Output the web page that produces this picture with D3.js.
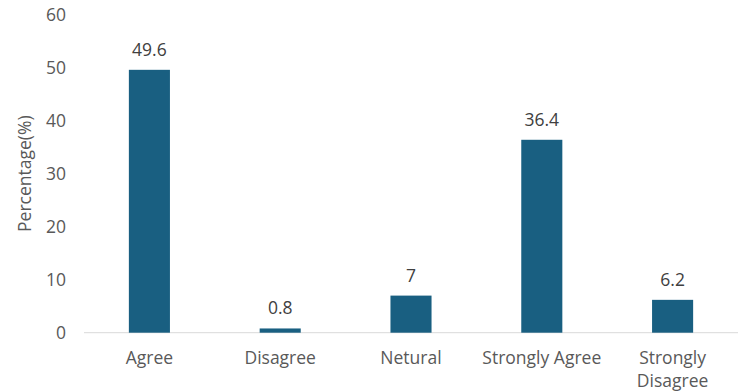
<!DOCTYPE html>
<html><head><meta charset="utf-8">
<script src="https://cdn.jsdelivr.net/npm/d3@7"></script>
<style>body{margin:0;background:#fff;} svg{display:block;}</style>
</head><body>
<script>
const categories = ["Agree","Disagree","Netural","Strongly Agree","Strongly Disagree"];
const values = [49.6, 0.8, 7, 36.4, 6.2];
const valueLabels = ["49.6","0.8","7","36.4","6.2"];
const yTicks = [0,10,20,30,40,50,60];
const yTitle = "Percentage(%)";

const W = 750, H = 392;
const m = {left:84, right:12, top:14.7, bottom:59.3};
const font = "'Open Sans', sans-serif";
const fs = 17.5;
const svg = d3.select("body").append("svg").attr("width",W).attr("height",H)
  .style("font-family", font);

const x = d3.scaleBand().domain(categories).range([m.left, W-m.right]).paddingInner(0.686).paddingOuter(0.343);
const y = d3.scaleLinear().domain([0,60]).range([H-m.bottom, m.top]);

const ya = svg.append("g").attr("transform",`translate(${m.left},0)`)
  .call(d3.axisLeft(y).tickValues(yTicks).tickSize(0).tickPadding(18));
ya.select(".domain").remove();
ya.selectAll("text").attr("font-size",fs).attr("fill","#595959").style("font-family",font);

svg.append("line").attr("x1",m.left).attr("x2",W-m.right)
  .attr("y1",y(0)).attr("y2",y(0)).attr("stroke","#d9d9d9").attr("stroke-width",1);

svg.append("g").selectAll("rect").data(categories).join("rect")
  .attr("x",d=>x(d)).attr("width",x.bandwidth())
  .attr("y",(d,i)=>y(values[i])).attr("height",(d,i)=>y(0)-y(values[i]))
  .attr("fill","#195f81");

svg.append("g").selectAll("text").data(categories).join("text")
  .attr("x",d=>x(d)+x.bandwidth()/2).attr("y",(d,i)=>y(values[i])-14)
  .attr("text-anchor","middle").attr("font-size",fs).attr("fill","#404040")
  .text((d,i)=>valueLabels[i]);

const xa = svg.append("g").selectAll("text").data(categories).join("text")
  .attr("x",d=>x(d)+x.bandwidth()/2).attr("y",y(0)+31)
  .attr("text-anchor","middle").attr("font-size",fs).attr("fill","#595959");
xa.each(function(d){
  const t = d3.select(this);
  const words = d.split(" ");
  if (d === "Strongly Disagree") {
    words.forEach((w,i)=>t.append("tspan").attr("x",x(d)+x.bandwidth()/2).attr("dy",i?23:0).text(w));
  } else t.text(d);
});

svg.append("text").attr("transform",`translate(31,${(y(0)+y(60))/2}) rotate(-90)`)
  .attr("text-anchor","middle").attr("font-size",fs).attr("fill","#595959").text(yTitle);
</script>
</body></html>
